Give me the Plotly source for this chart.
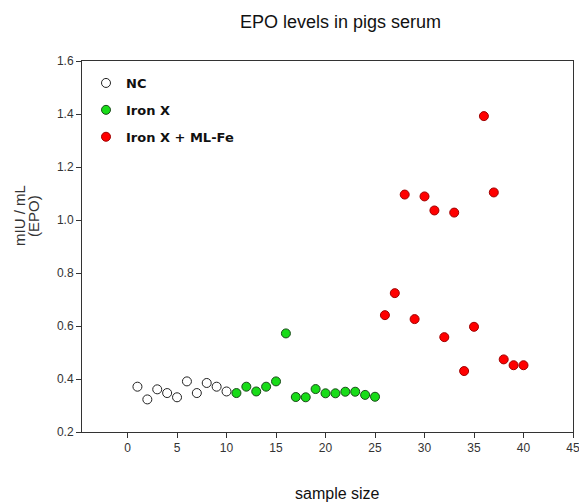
import plotly.graph_objects as go

# ---- data ----
nc_x = [1, 2, 3, 4, 5, 6, 7, 8, 9, 10]
nc_y = [0.371, 0.323, 0.361, 0.347, 0.331, 0.391, 0.347, 0.385, 0.371, 0.353]

iron_x = [11, 12, 13, 14, 15, 16, 17, 18, 19, 20, 21, 22, 23, 24, 25]
iron_y = [0.347, 0.371, 0.353, 0.371, 0.391, 0.572, 0.332, 0.331, 0.362,
          0.346, 0.346, 0.352, 0.352, 0.340, 0.333]

mlfe_x = [26, 27, 28, 29, 30, 31, 32, 33, 34, 35, 36, 37, 38, 39, 40]
mlfe_y = [0.641, 0.724, 1.096, 0.626, 1.089, 1.036, 0.558, 1.028, 0.430,
          0.597, 1.392, 1.104, 0.474, 0.452, 0.452]

series_names = ["NC", "Iron X", "Iron X + ML-Fe"]
x_ticks = [0, 5, 10, 15, 20, 25, 30, 35, 40, 45]
y_ticks = [0.2, 0.4, 0.6, 0.8, 1.0, 1.2, 1.4, 1.6]

# ---- layout geometry ----
W, H = 579, 503
ML, MR, MT, MB = 82, 6, 61, 71
PW, PH = W - ML - MR, H - MT - MB


def px(x):
    return (x - ML) / PW


def py(y):
    return (H - MB - y) / PH


fig = go.Figure()
fig.add_trace(go.Scatter(
    x=nc_x, y=nc_y, mode="markers", name=series_names[0], legendgroup="a",
    marker=dict(size=9, color="white", line=dict(color="#222222", width=1)),
))
fig.add_trace(go.Scatter(
    x=iron_x, y=iron_y, mode="markers", name=series_names[1], legendgroup="b",
    marker=dict(size=9, color="#18dc18", line=dict(color="#1a4a1a", width=1)),
))
fig.add_trace(go.Scatter(
    x=mlfe_x, y=mlfe_y, mode="markers", name=series_names[2], legendgroup="c",
    marker=dict(size=9, color="#ff0000", line=dict(color="#a00000", width=1)),
))

axis_common = dict(
    showgrid=False, zeroline=False, showline=True, linecolor="#333333",
    linewidth=1, mirror=True, ticks="outside", ticklen=5, tickcolor="#333333",
    ticklabeloverflow="allow", automargin=False,
    tickfont=dict(family="Liberation Sans, Arial", size=12, color="#333333"),
)

fig.update_layout(
    width=W, height=H,
    margin=dict(l=ML, r=MR, t=MT, b=MB, pad=0, autoexpand=False),
    paper_bgcolor="white", plot_bgcolor="white",
    xaxis=dict(range=[-4.6, 45], tickvals=x_ticks, **axis_common),
    yaxis=dict(range=[0.2, 1.6], tickvals=y_ticks, tickformat=".1f", **axis_common),
    showlegend=True,
    legend=dict(
        x=px(86), y=py(68), xanchor="left", yanchor="top",
        bgcolor="rgba(0,0,0,0)", borderwidth=0, tracegroupgap=7,
        font=dict(family="DejaVu Sans", size=13, color="#111111", weight="bold"),
        itemsizing="trace",
    ),
    annotations=[
        dict(text="EPO levels in pigs serum", x=px(340), y=py(22),
             xref="paper", yref="paper", showarrow=False,
             xanchor="center", yanchor="middle",
             font=dict(family="Liberation Sans, Arial", size=18, color="#111111")),
        dict(text="sample size", x=px(337), y=py(493),
             xref="paper", yref="paper", showarrow=False,
             xanchor="center", yanchor="middle",
             font=dict(family="Liberation Sans, Arial", size=16, color="#111111")),
        dict(text="mIU / mL", x=px(20), y=py(216), textangle=-90,
             xref="paper", yref="paper", showarrow=False,
             xanchor="center", yanchor="middle",
             font=dict(family="Liberation Sans, Arial", size=15, color="#333333")),
        dict(text="(EPO)", x=px(34), y=py(216), textangle=-90,
             xref="paper", yref="paper", showarrow=False,
             xanchor="center", yanchor="middle",
             font=dict(family="Liberation Sans, Arial", size=15, color="#333333")),
    ],
)

fig.write_html("out.html")
